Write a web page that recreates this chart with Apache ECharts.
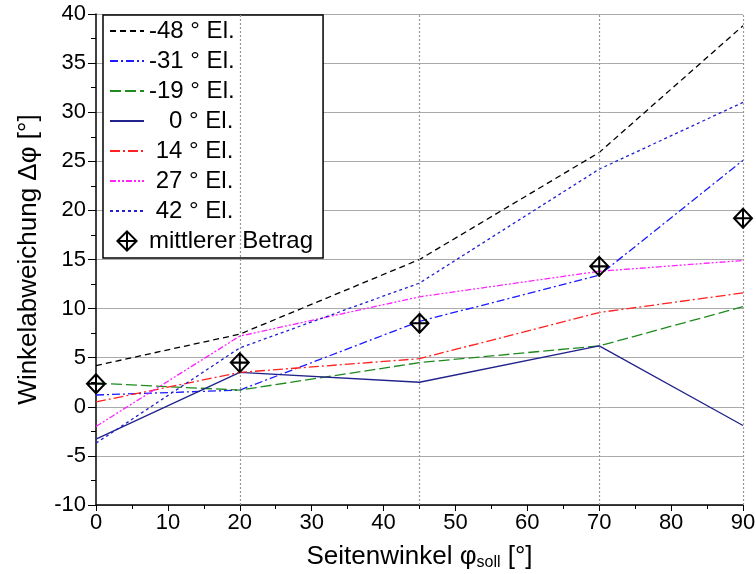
<!DOCTYPE html>
<html><head><meta charset="utf-8">
<script src="https://cdn.jsdelivr.net/npm/echarts@6/dist/echarts.min.js"></script>
<style>html,body{margin:0;padding:0;background:#fff}#c{width:756px;height:574px}</style>
</head><body><div id="c"></div>
<script>
const xValues = [0, 20, 45, 70, 90];
const seriesNames = ['-48 ° El.', '-31 ° El.', '-19 ° El.', '   0 ° El.', ' 14 ° El.', ' 27 ° El.', ' 42 ° El.'];
const el_m48 = [4.2, 7.4, 15.0, 25.9, 38.8];
const el_m31 = [1.2, 1.7, 8.7, 13.4, 25.1];
const el_m19 = [2.4, 1.7, 4.5, 6.2, 10.2];
const el_0   = [-3.3, 3.5, 2.5, 6.2, -1.9];
const el_14  = [0.5, 3.5, 4.9, 9.6, 11.6];
const el_27  = [-2.0, 7.2, 11.2, 13.8, 14.9];
const el_42  = [-3.7, 6.0, 12.6, 24.2, 31.0];
const meanName = 'mittlerer Betrag';
const meanAbs = [2.35, 4.5, 8.5, 14.3, 19.2];
const yTicks = { min: -10, max: 40, interval: 5 };
const xTicks = { min: 0, max: 90, interval: 10 };
const measureLines = [20, 45, 70, 90];

const values = [el_m48, el_m31, el_m19, el_0, el_14, el_27, el_42];
const colors = ['#000000', '#1a1aff', '#1f8a1f', '#22228c', '#ff2020', '#ff22ff', '#2020d0'];
const dashes = [[6,4], [8,3,2,3], [11,4], 'solid', [10,3,2,3], [6,2,2,2,2,2], [3,3]];

const pair = arr => arr.map((v, i) => [xValues[i], v]);
const series = values.map((arr, i) => ({
  name: seriesNames[i], type: 'line', data: pair(arr), symbol: 'none',
  lineStyle: { color: colors[i], width: 1.3, type: dashes[i] },
  itemStyle: { color: colors[i] }, z: 3, animation: false
}));
series.push({
  name: meanName, type: 'line', data: pair(meanAbs),
  lineStyle: { width: 0, opacity: 0 },
  symbol: 'path://M0,-12 L11,0 L0,12 L-11,0 Z M0,-12 L0,12 M-11,0 L11,0',
  symbolSize: [18, 19],
  itemStyle: { color: 'rgba(0,0,0,0)', borderColor: '#000', borderWidth: 2 },
  z: 5, animation: false,
  markLine: {
    silent: true, symbol: 'none', label: { show: false },
    lineStyle: { color: '#999', type: [2, 2], width: 1.2 },
    data: measureLines.map(v => ({ xAxis: v })), animation: false
  }
});

const legendData = seriesNames.map(n => ({ name: n, itemStyle: { opacity: 0 } }))
  .concat([{ name: meanName }]);

const chart = echarts.init(document.getElementById('c'));
chart.setOption({
  animation: false,
  textStyle: { fontFamily: 'Liberation Sans, Arial, sans-serif' },
  grid: { left: 96, right: 13, top: 14, bottom: 69, containLabel: false, outerBoundsMode: 'none' },
  xAxis: {
    type: 'value', min: xTicks.min, max: xTicks.max, interval: xTicks.interval,
    axisLine: { onZero: false, lineStyle: { color: '#000', width: 1.5 } },
    axisTick: { show: true, length: 6, inside: false, lineStyle: { color: '#000' } },
    minorTick: { show: true, splitNumber: 2, length: 4, lineStyle: { color: '#000' } },
    splitLine: { show: false },
    axisLabel: { color: '#000', fontSize: 22, margin: 7 },
    name: '{a|Seitenwinkel φ}{s|soll}{a| [°]}',
    nameLocation: 'middle', nameGap: 38,
    nameTextStyle: { rich: {
      a: { fontSize: 26, color: '#000', fontFamily: 'Liberation Sans' },
      s: { fontSize: 16, color: '#000', fontFamily: 'Liberation Sans', padding: [12, 0, 0, 0] }
    } }
  },
  yAxis: {
    type: 'value', min: yTicks.min, max: yTicks.max, interval: yTicks.interval,
    axisLine: { show: true, onZero: false, lineStyle: { color: '#000', width: 1.5 } },
    axisTick: { show: true, length: 8, inside: false, lineStyle: { color: '#000' } },
    minorTick: { show: true, splitNumber: 2, length: 5, lineStyle: { color: '#000' } },
    splitLine: { show: true, lineStyle: { color: '#aaa', width: 1.2 } },
    axisLabel: { color: '#000', fontSize: 22, margin: 10 },
    name: 'Winkelabweichung Δφ [°]', nameLocation: 'middle', nameGap: 54,
    nameTextStyle: { fontSize: 26, color: '#000' }
  },
  legend: {
    left: 103, top: 15, orient: 'vertical', width: 220,
    backgroundColor: '#fff', borderColor: '#000', borderWidth: 1.5,
    padding: [4, 10, 5, 6], itemGap: 6, itemWidth: 34, itemHeight: 24,
    textStyle: { fontSize: 24, color: '#000', fontFamily: 'Liberation Sans' },
    data: legendData
  },
  series: series
});
</script></body></html>
